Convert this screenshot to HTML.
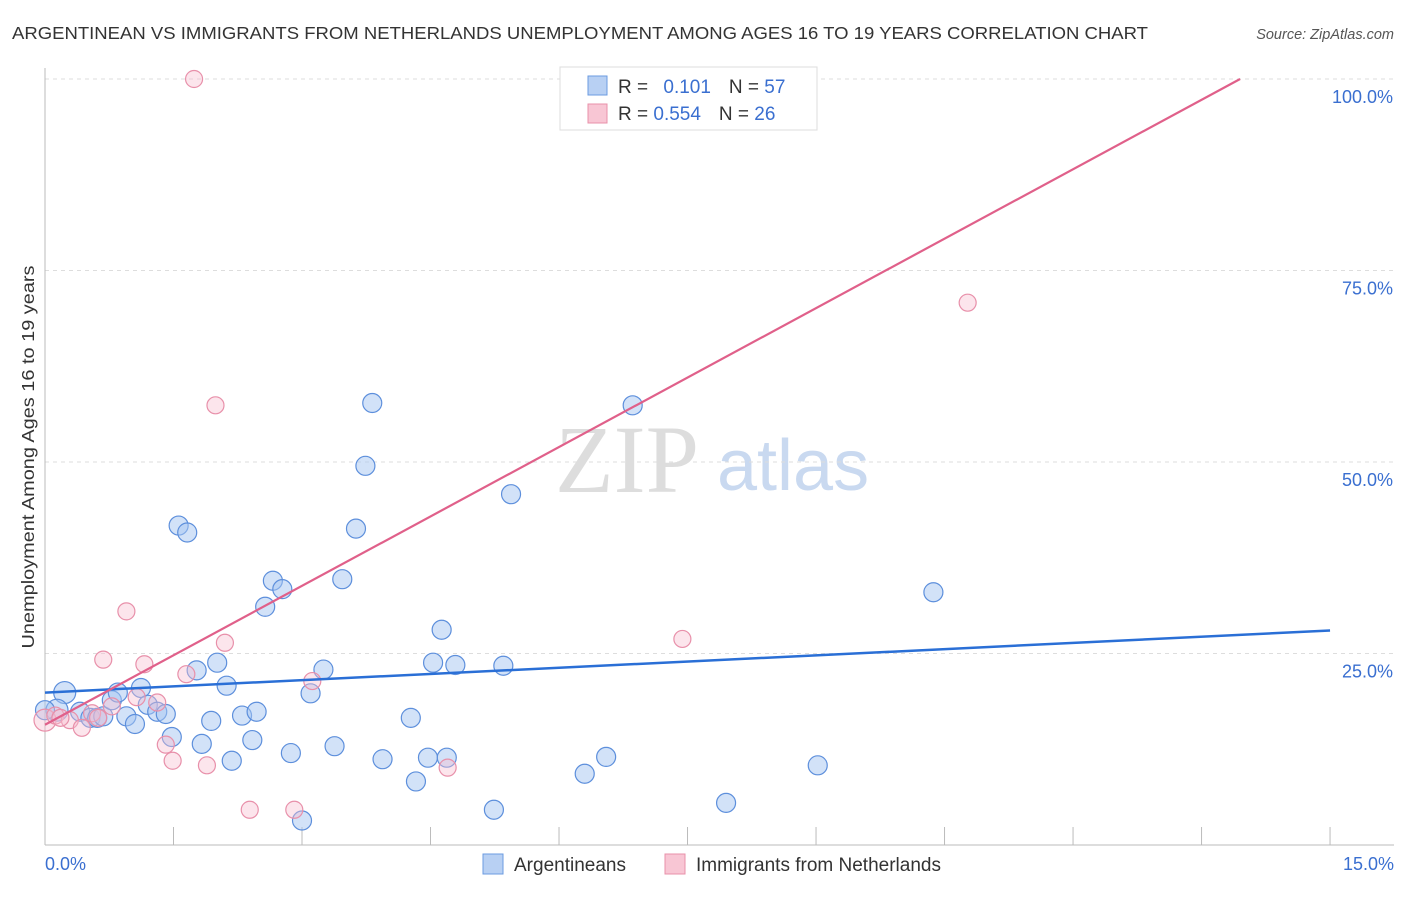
<!DOCTYPE html>
<html><head><meta charset="utf-8"><style>
body{margin:0;background:#fff;font-family:"Liberation Sans",sans-serif}
</style></head><body>
<svg width="1406" height="892" xmlns="http://www.w3.org/2000/svg" font-family="Liberation Sans, sans-serif">
<text x="12" y="39" font-size="17.5" fill="#333" textLength="1136" lengthAdjust="spacingAndGlyphs">ARGENTINEAN VS IMMIGRANTS FROM NETHERLANDS UNEMPLOYMENT AMONG AGES 16 TO 19 YEARS CORRELATION CHART</text>
<text x="1394" y="39" font-size="14.5" fill="#555" font-style="italic" text-anchor="end">Source: ZipAtlas.com</text>
<text x="555" y="492" font-size="96" fill="#ddd" font-family="Liberation Serif, serif">ZIP</text>
<text x="717" y="490" font-size="72" fill="#c9d9f0">atlas</text>
<g id="grid"></g>
<g id="axes"></g>
<g id="pts"></g>
<g id="lines"></g>
<text transform="translate(34,457) rotate(-90)" font-size="17.5" fill="#333" text-anchor="middle" textLength="383" lengthAdjust="spacingAndGlyphs">Unemployment Among Ages 16 to 19 years</text>
<g>
<rect x="560" y="67" width="257" height="63" fill="#fff" stroke="#ddd"/>
<rect x="588" y="76" width="19" height="19" fill="#b8d0f3" stroke="#6b9be0"/>
<rect x="588" y="104" width="19" height="19" fill="#f8c6d4" stroke="#e890aa"/>
<text x="618" y="93" font-size="19" fill="#333">R = <tspan fill="#3a6fd0" dx="10">0.101</tspan><tspan dx="18" fill="#333">N = </tspan><tspan fill="#3a6fd0">57</tspan></text>
<text x="618" y="120" font-size="19" fill="#333">R = <tspan fill="#3a6fd0">0.554</tspan><tspan dx="18" fill="#333">N = </tspan><tspan fill="#3a6fd0">26</tspan></text>
</g>
<g>
<rect x="483" y="854" width="20" height="20" fill="#b8d0f3" stroke="#6b9be0"/>
<text x="514" y="871" font-size="19" fill="#333">Argentineans</text>
<rect x="665" y="854" width="20" height="20" fill="#f8c6d4" stroke="#e890aa"/>
<text x="696" y="871" font-size="19" fill="#333">Immigrants from Netherlands</text>
</g>
</svg>
<script>
const xTicks=[0,1.5,3,4.5,6,7.5,9,10.5,12,13.5,15];
const yTicks=[25,50,75,100];
const yTickLabels=["25.0%","50.0%","75.0%","100.0%"];
const blueX=[0.23,0.14,0.41,0.53,0.61,0.68,0.78,0.85,0.95,1.05,1.12,1.2,1.31,1.41,1.48,1.56,1.66,1.77,1.83,1.94,2.01,2.12,2.18,2.3,2.42,2.47,2.57,2.66,2.77,2.87,3.0,3.1,3.25,3.38,3.47,3.63,3.74,3.82,3.94,4.27,4.33,4.47,4.53,4.63,4.69,4.79,5.24,5.35,5.44,6.3,6.55,6.86,7.95,9.02,10.37,0];
const blueY=[19.9,17.6,17.4,16.6,16.6,16.8,18.9,19.9,16.8,15.8,20.5,18.3,17.4,17.1,14.1,41.7,40.8,22.8,13.2,16.2,23.8,20.8,11.0,16.9,13.7,17.4,31.1,34.5,33.4,12.0,3.2,19.8,22.9,12.9,34.7,41.3,49.5,57.7,11.2,16.6,8.3,11.4,23.8,28.1,11.4,23.5,4.6,23.4,45.8,9.3,11.5,57.4,5.5,10.4,33.0,17.6];
const pinkX=[0,0.12,0.29,0.43,0.55,0.68,0.78,0.95,1.07,1.16,1.31,1.41,1.49,1.65,1.74,1.89,1.99,2.1,2.39,2.91,3.12,4.7,7.44,10.77,0.18,0.62];
const pinkY=[16.3,16.9,16.3,15.3,17.2,24.2,18.1,30.5,19.3,23.6,18.6,13.1,11.0,22.3,100,10.4,57.4,26.4,4.6,4.6,21.4,10.1,26.9,70.8,16.6,16.6];
const blueFit=[19.9,28.0];
const pinkFit=[15.7,100];
const pinkFitX=[0,13.95];
const X=v=>45+v*85.67, Y=v=>845-v*7.66;
const NS="http://www.w3.org/2000/svg";
function mk(t,a,p){const e=document.createElementNS(NS,t);for(const k in a)e.setAttribute(k,a[k]);p.appendChild(e);return e;}
const grid=document.getElementById('grid'),axes=document.getElementById('axes'),pts=document.getElementById('pts'),lines=document.getElementById('lines');
yTicks.forEach((t,i)=>{
 const l=mk('line',{x1:45,x2:1394,y1:Y(t),y2:Y(t),stroke:'#ddd','stroke-dasharray':'4,4'},grid);
 
 
 const tx=mk('text',{x:1393,y:Y(t)+24,'font-size':18,fill:'#3a6fd0','text-anchor':'end'},axes);
 tx.textContent=yTickLabels[i];
 
 
});
const ya=mk('line',{x1:45,x2:45,y1:68,y2:845,stroke:'#bbb'},axes);


const xa=mk('line',{x1:45,x2:1394,y1:845,y2:845,stroke:'#bbb'},axes);


xTicks.forEach(t=>{const l=mk('line',{x1:X(t),x2:X(t),y1:827,y2:845,stroke:'#bbb'},axes);
 
 });
[[0,'0.0%','start',45],[15,'15.0%','end',1394]].forEach(d=>{const tx=mk('text',{x:d[3],y:870,'font-size':18,fill:'#3a6fd0','text-anchor':d[2]},axes);tx.textContent=d[1];
 
 });
blueX.forEach((v,i)=>{const r=i<2?11:9.5;const c=mk('circle',{cx:X(v),cy:Y(blueY[i]),r:r,fill:'rgba(165,198,242,0.5)',stroke:'#5d8fdc','stroke-width':1.2},pts);
 
 });
pinkX.forEach((v,i)=>{const r=i==0?11:8.5;const c=mk('circle',{cx:X(v),cy:Y(pinkY[i]),r:r,fill:'rgba(248,190,208,0.4)',stroke:'#e890aa','stroke-width':1.2},pts);
 
 });
const bl=mk('line',{x1:X(0),y1:Y(blueFit[0]),x2:X(15),y2:Y(blueFit[1]),stroke:'#2a6fd6','stroke-width':2.5},lines);


const pl=mk('line',{x1:X(pinkFitX[0]),y1:Y(pinkFit[0]),x2:X(pinkFitX[1]),y2:Y(pinkFit[1]),stroke:'#e0608a','stroke-width':2.2},lines);


</script>
</body></html>
